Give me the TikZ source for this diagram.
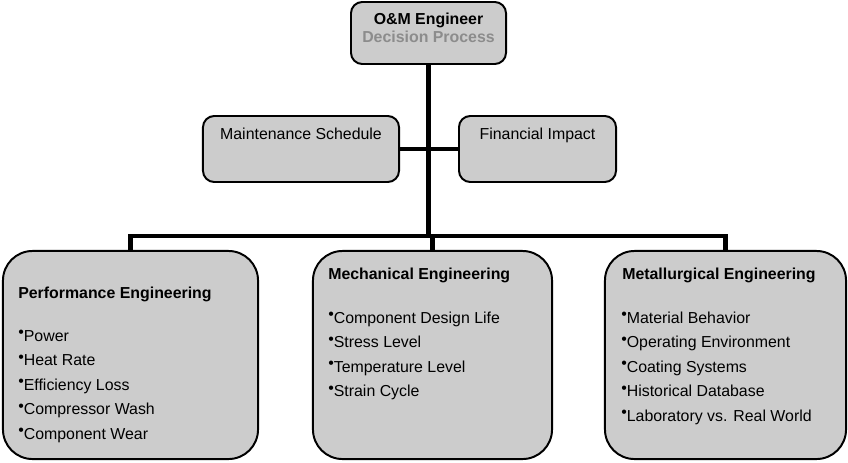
\documentclass[tikz,border=0pt]{standalone}
\usepackage{fontspec}
\setmainfont{Liberation Sans}
\usetikzlibrary{positioning}
\definecolor{omFill}{HTML}{CCCCCC}
\definecolor{omGrey}{HTML}{8C8C8C}
\newcommand{\omBul}{\raisebox{.4ex}{\textbullet}}
\begin{document}
\begin{tikzpicture}[
                x=0.025cm, y=-0.025cm,
                omText/.style={font=\fontsize{11.3}{13.6}\selectfont,inner sep=0pt},
                omHead/.style={omText,font=\fontsize{11.3}{13.6}\selectfont\bfseries},
                omBox/.style={draw=black,line width=1.4pt,fill=omFill,inner sep=0pt},
                omLink/.style={draw=black,line width=2.9pt}]
                \useasboundingbox (0,0) rectangle (848,462);
                % boxes
                \node[omBox,rounded corners=8pt,minimum width=3.875cm,minimum height=1.55cm] (engineer) at (428.5,33) {};
                \node[omBox,rounded corners=8pt,minimum width=4.9cm,minimum height=1.65cm] (schedule) at (301,149) {};
                \node[omBox,rounded corners=8pt,minimum width=3.925cm,minimum height=1.65cm] (impact) at (537.5,149) {};
                \node[omBox,rounded corners=21pt,minimum width=6.375cm,minimum height=5.2cm] (perf) at (130.5,355) {};
                \node[omBox,rounded corners=21pt,minimum width=5.975cm,minimum height=5.2cm] (mech) at (432.5,355) {};
                \node[omBox,rounded corners=21pt,minimum width=6.025cm,minimum height=5.2cm] (metal) at (725.5,355) {};
                % connectors
                \coordinate (busL) at (130.5,236);
                \coordinate (busR) at (725.5,236);
                \draw[omLink] (engineer.south) -- (engineer.south |- busL);
                \draw[omLink] (schedule.east) -- (impact.west);
                \draw[omLink] (perf.north) -- (busL) -- (busR) -- (metal.north);
                \draw[omLink] (mech.north) -- (mech.north |- busL);
                % texts
                \node[omHead,anchor=base] (engineerA) at (428.5,24) {O\&M Engineer};
                \node[omHead,anchor=base,text=omGrey] (engineerB) at (428.5,42) {Decision Process};
                \node[omText,anchor=base] (scheduleT) at (301,139) {Maintenance Schedule};
                \node[omText,anchor=base] (impactT) at (537.5,139) {Financial Impact};
                \node[omHead,anchor=base west] (perfT) at (18,298) {Performance Engineering};
                \node[omHead,anchor=base west] (mechT) at (328,279) {Mechanical Engineering};
                \node[omHead,anchor=base west] (metalT) at (622,279) {Metallurgical Engineering};
                \foreach \t [count=\i] in {Power,Heat Rate,Efficiency Loss,Compressor Wash,Component Wear}
                    \node[omText,anchor=base west] (perf\i) at (18,316.5+24.5*\i) {\omBul\t};
                \foreach \t [count=\i] in {Component Design Life,Stress Level,Temperature Level,Strain Cycle}
                    \node[omText,anchor=base west] (mech\i) at (328,298.5+24.5*\i) {\omBul\t};
                \foreach \t [count=\i] in {Material Behavior,Operating Environment,Coating Systems,Historical Database,Laboratory vs. Real World}
                    \node[omText,anchor=base west] (metal\i) at (621,298.5+24.5*\i) {\omBul\t};
            \end{tikzpicture}
\end{document}
